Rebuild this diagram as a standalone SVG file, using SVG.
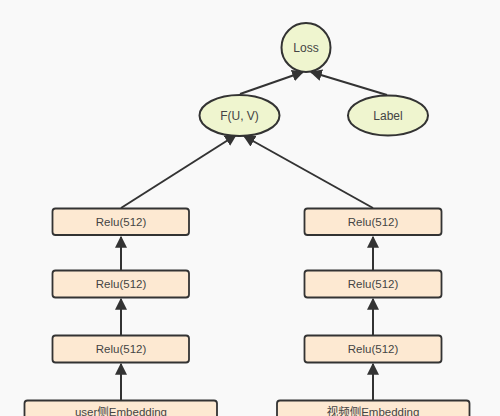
<svg xmlns="http://www.w3.org/2000/svg" width="500" height="416" viewBox="0 0 500 416">
<style>
.box{fill:#fde9d2;stroke:#333;stroke-width:1.8}
.ell{fill:#eff5cf;stroke:#333;stroke-width:2}
.t{font-family:"Liberation Sans",Arial,"Noto Sans CJK SC",sans-serif;font-size:11.5px;fill:#444;text-anchor:middle;dominant-baseline:central}
.te{font-size:12px}
.c{stroke:#333;stroke-width:2;fill:none;marker-end:url(#ah)}
</style>
<defs>
<marker id="ah" viewBox="0 0 10 10" refX="9" refY="5" markerWidth="6" markerHeight="6" orient="auto" markerUnits="strokeWidth">
<path d="M0,0 L10,5 L0,10 z" fill="#333"/>
</marker>
</defs>
<rect width="500" height="416" fill="#f9f9f9"/>
<g id="connectors">
<line class="c" x1="240" y1="94" x2="303" y2="72"/>
<line class="c" x1="387" y1="95" x2="311" y2="72"/>
<line class="c" x1="121" y1="208" x2="236" y2="135"/>
<line class="c" x1="373" y1="208" x2="244" y2="136"/>
<line class="c" x1="121" y1="270" x2="121" y2="237"/>
<line class="c" x1="121" y1="335" x2="121" y2="299"/>
<line class="c" x1="121" y1="400" x2="121" y2="364"/>
<line class="c" x1="373" y1="270" x2="373" y2="237"/>
<line class="c" x1="373" y1="335" x2="373" y2="299"/>
<line class="c" x1="373" y1="400" x2="373" y2="364"/>
</g>
<g id="loss"><circle class="ell" cx="306" cy="47.5" r="24.5"/><text class="t te" x="306" y="47.5">Loss</text></g>
<g id="fuv"><ellipse class="ell" cx="239.5" cy="115.5" rx="40" ry="20.5"/><text class="t te" x="239.5" y="115.5">F(U, V)</text></g>
<g id="label"><ellipse class="ell" cx="388" cy="115.5" rx="40" ry="20"/><text class="t te" x="388" y="115.5">Label</text></g>
<g id="l1"><rect class="box" x="52.5" y="208.5" width="136.5" height="26.5" rx="3"/><text class="t" x="121" y="221.5">Relu(512)</text></g>
<g id="l2"><rect class="box" x="52.5" y="270.5" width="136.5" height="27" rx="3"/><text class="t" x="121" y="284">Relu(512)</text></g>
<g id="l3"><rect class="box" x="52.5" y="335.5" width="136.5" height="27" rx="3"/><text class="t" x="121" y="349">Relu(512)</text></g>
<g id="lemb"><rect class="box" x="24.5" y="400.5" width="192.5" height="30" rx="3"/><text class="t" x="121" y="412">user侧Embedding</text></g>
<g id="r1"><rect class="box" x="304.5" y="208.5" width="137" height="26.5" rx="3"/><text class="t" x="373" y="221.5">Relu(512)</text></g>
<g id="r2"><rect class="box" x="304.5" y="270.5" width="137" height="27" rx="3"/><text class="t" x="373" y="284">Relu(512)</text></g>
<g id="r3"><rect class="box" x="304.5" y="335.5" width="137" height="27" rx="3"/><text class="t" x="373" y="349">Relu(512)</text></g>
<g id="remb"><rect class="box" x="277" y="400.5" width="192.5" height="30" rx="3"/><text class="t" x="373" y="412">视频侧Embedding</text></g>
</svg>
